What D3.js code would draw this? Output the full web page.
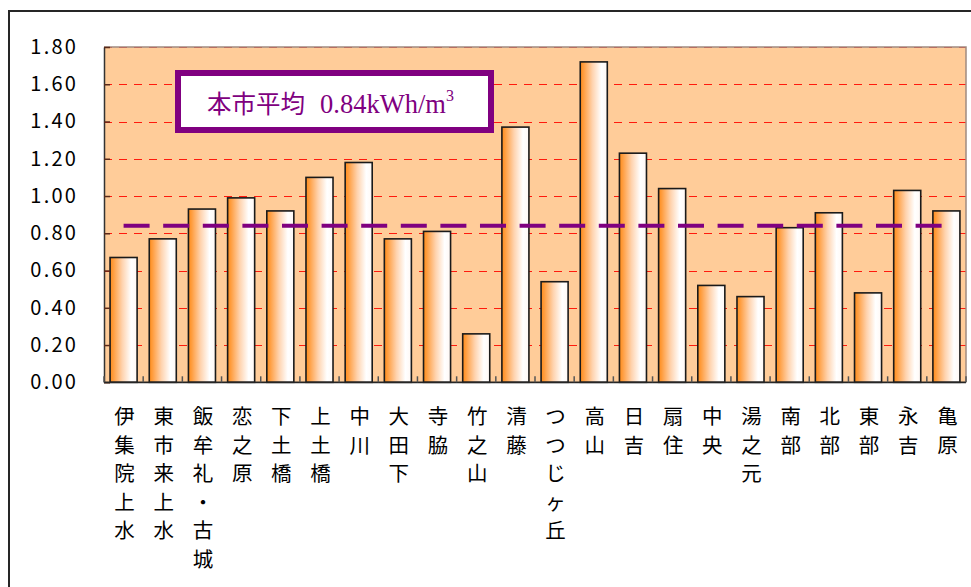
<!DOCTYPE html>
<html>
<head>
<meta charset="utf-8">
<script src="https://cdn.jsdelivr.net/npm/d3@7"></script>
<style>
  html, body { margin: 0; padding: 0; background: #fff; }
  svg { display: block; }
</style>
</head>
<body>
<svg id="chart" width="971" height="587"></svg>
<script>
// Water-supply energy use per cubic metre, by facility
const categories = ["伊集院上水","東市来上水","飯牟礼・古城","恋之原","下土橋","上土橋","中川","大田下","寺脇","竹之山","清藤","つつじヶ丘","高山","日吉","扇住","中央","湯之元","南部","北部","東部","永吉","亀原"];
const values = [0.67,0.77,0.93,0.99,0.92,1.10,1.18,0.77,0.81,0.26,1.37,0.54,1.72,1.23,1.04,0.52,0.46,0.83,0.91,0.48,1.03,0.92];
const average = 0.84;
const yTicks = [0,0.2,0.4,0.6,0.8,1.0,1.2,1.4,1.6,1.8];
const legendLabel = "本市平均";
const legendValue = "0.84kWh/m";
const legendSup = "3";

const svg = d3.select("#chart");
const plot = { left: 104, top: 47, right: 966, bottom: 382.3 };

const x = d3.scaleBand().domain(categories).range([plot.left, plot.right]).paddingInner(0.31).paddingOuter(0.155);
const y = d3.scaleLinear().domain([0, 1.8]).range([plot.bottom, plot.top]);

// outer chart frame
svg.append("rect").attr("x", 9).attr("y", 11).attr("width", 1000).attr("height", 1000)
  .attr("fill", "#fff").attr("stroke", "#262626").attr("stroke-width", 2);

// bar gradient
const defs = svg.append("defs");
const grad = defs.append("linearGradient").attr("id", "barGrad").attr("x1", 0).attr("x2", 1).attr("y1", 0).attr("y2", 0);
[[0, "#ff8c1a"], [0.12, "#ff9d3e"], [0.45, "#ffd3ae"], [0.78, "#ffffff"], [1, "#fff8f4"]]
  .forEach(([o, c]) => grad.append("stop").attr("offset", o).attr("stop-color", c));

// plot background
svg.append("rect").attr("x", plot.left).attr("y", plot.top)
  .attr("width", plot.right - plot.left).attr("height", plot.bottom - plot.top)
  .attr("fill", "#ffcc99");

// grid lines
svg.append("g").selectAll("line").data(yTicks.filter(d => d > 0)).join("line")
  .attr("x1", plot.left).attr("x2", plot.right)
  .attr("y1", d => Math.round(y(d)) + 0.5).attr("y2", d => Math.round(y(d)) + 0.5)
  .attr("stroke", "#ff1a0d").attr("stroke-width", 1.2).attr("stroke-dasharray", "8,7");

// plot border (top and right)
svg.append("path")
  .attr("d", `M${plot.left},${plot.top}H${plot.right}V${plot.bottom}`)
  .attr("fill", "none").attr("stroke", "#a08a80").attr("stroke-width", 1.5);

// bars
svg.append("g").selectAll("rect").data(categories).join("rect")
  .attr("x", d => x(d)).attr("width", x.bandwidth())
  .attr("y", (d, i) => y(values[i])).attr("height", (d, i) => y(0) - y(values[i]))
  .attr("fill", "url(#barGrad)").attr("stroke", "#1a1a1a").attr("stroke-width", 1.6);

// average line, from first to last category centre
const half = x.bandwidth() / 2;
svg.append("line")
  .attr("x1", x(categories[0]) + half).attr("x2", x(categories[categories.length - 1]) + half)
  .attr("y1", y(average)).attr("y2", y(average))
  .attr("stroke", "#800080").attr("stroke-width", 4).attr("stroke-dasharray", "26,13.6");

// y axis
const yAxis = d3.axisLeft(y).tickValues(yTicks).tickFormat(d3.format(".2f"))
  .tickSizeInner(-6).tickSizeOuter(0).tickPadding(26);
const gy = svg.append("g").attr("transform", `translate(${plot.left},0)`).call(yAxis);
gy.select(".domain").attr("stroke", "#333").attr("stroke-width", 1.5);
gy.selectAll(".tick line").attr("stroke", "#5a2a1a").attr("stroke-width", 1.5);
gy.selectAll(".tick text")
  .attr("font-family", "'Noto Sans CJK JP', 'DejaVu Sans', sans-serif")
  .attr("font-size", 20).attr("letter-spacing", 2.2).attr("fill", "#000");

// x axis line and ticks between categories
const step = x.step();
const boundaries = d3.range(categories.length + 1).map(i => plot.left + i * step);
const gx = svg.append("g");
gx.append("line").attr("x1", plot.left).attr("x2", plot.right)
  .attr("y1", plot.bottom).attr("y2", plot.bottom)
  .attr("stroke", "#262626").attr("stroke-width", 1.8);
gx.selectAll("line.tick").data(boundaries).join("line").attr("class", "tick")
  .attr("x1", d => d).attr("x2", d => d)
  .attr("y1", plot.bottom - 6).attr("y2", plot.bottom)
  .attr("stroke", "#555").attr("stroke-width", 1.5);

// vertical category labels, one character per line
const labels = svg.append("g")
  .attr("font-family", "'Noto Sans CJK JP', sans-serif").attr("font-size", 20.5).attr("fill", "#000");
categories.forEach(name => {
  const cx = x(name) + half + 1;
  Array.from(name).forEach((ch, j) => {
    labels.append("text").attr("x", cx).attr("y", 415 + j * 28.6)
      .attr("text-anchor", "middle").attr("dominant-baseline", "central").text(ch);
  });
});

// legend box for the city average
svg.append("rect").attr("x", 178).attr("y", 73).attr("width", 313).attr("height", 57)
  .attr("fill", "#fff").attr("stroke", "#800080").attr("stroke-width", 6);
const lt = svg.append("text").attr("x", 207).attr("y", 113).attr("fill", "#800080");
lt.append("tspan").attr("font-family", "'Noto Sans CJK JP', sans-serif").attr("font-size", 24.5).text(legendLabel);
lt.append("tspan").attr("font-family", "'Liberation Serif', 'Times New Roman', serif").attr("font-size", 26.5)
  .attr("dx", 15).text(legendValue);
lt.append("tspan").attr("font-family", "'Liberation Serif', 'Times New Roman', serif").attr("font-size", 16)
  .attr("dy", -12).text(legendSup);
</script>
</body>
</html>
